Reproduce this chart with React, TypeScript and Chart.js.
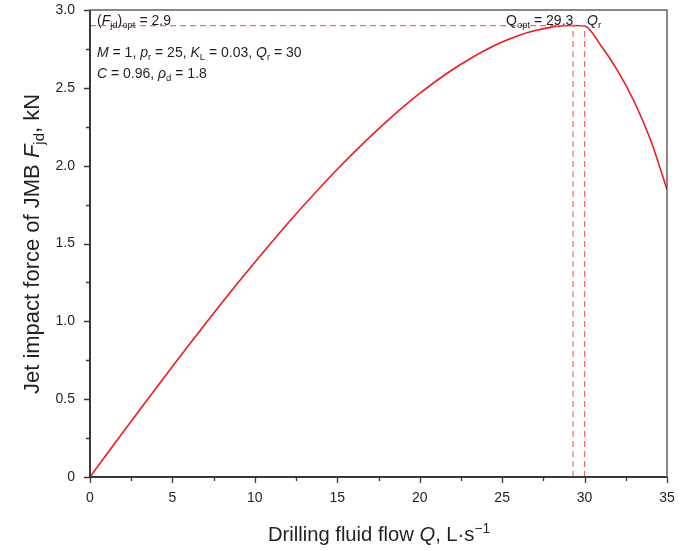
import React, { useEffect, useRef } from "react";
import { Chart, registerables } from "chart.js";

Chart.register(...registerables);

// Drilling fluid flow Q (L/s)
const flowQ = [0, 1, 2, 3, 4, 5, 6, 7, 8, 9, 10, 11, 12, 13, 14, 15, 16, 17, 18, 19, 20, 21, 22, 23, 24, 25, 26, 27, 28, 29, 29.3, 30, 31, 32, 33, 34, 35];
// Jet impact force F_jd (kN)
const force = [0, 0.144, 0.287, 0.429, 0.570, 0.710, 0.848, 0.985, 1.119, 1.251, 1.380, 1.506, 1.630, 1.749, 1.865, 1.977, 2.084, 2.187, 2.285, 2.377, 2.464, 2.544, 2.618, 2.684, 2.743, 2.794, 2.836, 2.868, 2.890, 2.900, 2.900, 2.897, 2.770, 2.611, 2.414, 2.166, 1.847];

const optForce = 2.9;
const optFlow = 29.3;
const ratedFlow = 30;

const xTicks = [0, 5, 10, 15, 20, 25, 30, 35];
const yTicks = [0, 0.5, 1.0, 1.5, 2.0, 2.5, 3.0];

const FONT = "'Liberation Sans', Arial, Helvetica, sans-serif";

type Seg = { t: string; it?: boolean; sub?: boolean; sup?: boolean };

function segFont(s: Seg, size: number) {
  const sz = s.sub || s.sup ? size * 0.68 : size;
  return `${s.it ? "italic " : ""}${sz}px ${FONT}`;
}

function richWidth(ctx: CanvasRenderingContext2D, segs: Seg[], size: number) {
  let w = 0;
  for (const s of segs) {
    ctx.font = segFont(s, size);
    w += ctx.measureText(s.t).width;
  }
  return w;
}

function drawRich(ctx: CanvasRenderingContext2D, x: number, y: number, segs: Seg[], size: number, align: "left" | "center" = "left") {
  let cx = x;
  if (align === "center") cx = x - richWidth(ctx, segs, size) / 2;
  ctx.textAlign = "left";
  ctx.textBaseline = "alphabetic";
  for (const s of segs) {
    ctx.font = segFont(s, size);
    let dy = 0;
    if (s.sub) dy = size * 0.22;
    if (s.sup) dy = -size * 0.42;
    ctx.fillText(s.t, cx, y + dy);
    cx += ctx.measureText(s.t).width;
  }
}

const decorPlugin = {
  id: "decor",
  afterDraw(chart: any) {
    const ctx: CanvasRenderingContext2D = chart.ctx;
    const { left, right, top, bottom } = chart.chartArea;
    const xs = chart.scales.x;
    const ys = chart.scales.y;
    ctx.save();
    // frame
    ctx.strokeStyle = "#3c3836";
    ctx.lineWidth = 1.2;
    ctx.strokeRect(left, top, right - left, bottom - top);
    ctx.lineWidth = 2;
    ctx.beginPath();
    ctx.moveTo(left, top);
    ctx.lineTo(left, bottom);
    ctx.lineTo(right, bottom);
    ctx.stroke();
    // ticks
    ctx.lineWidth = 1.3;
    ctx.beginPath();
    for (let v = 0; v <= 35.001; v += 2.5) {
      const px = Math.round(xs.getPixelForValue(v)) + 0.5;
      const major = Math.abs(v % 5) < 1e-6;
      ctx.moveTo(px, bottom);
      ctx.lineTo(px, bottom + (major ? 6 : 4));
    }
    for (let v = 0; v <= 3.001; v += 0.25) {
      const py = Math.round(ys.getPixelForValue(v)) + 0.5;
      const major = Math.abs((v * 2) % 1) < 1e-6;
      ctx.moveTo(left, py);
      ctx.lineTo(left - (major ? 6 : 4), py);
    }
    ctx.stroke();

    ctx.fillStyle = "#231f20";
    // axis titles
    drawRich(ctx, (left + right) / 2 + 0.5, 541, [
      { t: "Drilling fluid flow " },
      { t: "Q", it: true },
      { t: ", L·s" },
      { t: "−1", sup: true },
    ], 20.2, "center");
    ctx.save();
    ctx.translate(39, 244);
    ctx.rotate(-Math.PI / 2);
    drawRich(ctx, 0, 0, [
      { t: "Jet impact force of JMB " },
      { t: "F", it: true },
      { t: "jd", sub: true },
      { t: ", kN" },
    ], 22, "center");
    ctx.restore();

    // annotations
    const fs = 14;
    drawRich(ctx, left + 7, 25, [
      { t: "(" }, { t: "F", it: true }, { t: "jd", sub: true }, { t: ")" }, { t: "opt", sub: true }, { t: " = 2.9" },
    ], fs);
    drawRich(ctx, left + 7, 57, [
      { t: "M", it: true }, { t: " = 1, " },
      { t: "p", it: true }, { t: "r", sub: true }, { t: " = 25, " },
      { t: "K", it: true }, { t: "L", sub: true }, { t: " = 0.03, " },
      { t: "Q", it: true }, { t: "r", sub: true }, { t: " = 30" },
    ], fs);
    drawRich(ctx, left + 7, 78, [
      { t: "C", it: true }, { t: " = 0.96, " },
      { t: "ρ", it: true }, { t: "d", sub: true }, { t: " = 1.8" },
    ], fs);
    drawRich(ctx, 506, 25, [
      { t: "Q", it: false }, { t: "opt", sub: true }, { t: " = 29.3" },
    ], fs);
    drawRich(ctx, 587, 25, [
      { t: "Q", it: true }, { t: "r", sub: true },
    ], fs);
    ctx.restore();
  },
};

export default function App() {
  const ref = useRef<HTMLCanvasElement>(null);
  useEffect(() => {
    if (!ref.current) return;
    const dash = "rgba(238, 90, 90, 0.9)";
    const chart = new Chart(ref.current, {
      type: "line",
      data: {
        datasets: [
          {
            data: [{ x: 0, y: optForce }, { x: ratedFlow, y: optForce }],
            borderColor: dash, borderWidth: 1.2, borderDash: [6, 4], pointRadius: 0,
          },
          {
            data: [{ x: optFlow, y: 0 }, { x: optFlow, y: optForce }],
            borderColor: dash, borderWidth: 1.2, borderDash: [6, 4], pointRadius: 0,
          },
          {
            data: [{ x: ratedFlow, y: 0 }, { x: ratedFlow, y: optForce }],
            borderColor: dash, borderWidth: 1.2, borderDash: [6, 4], pointRadius: 0,
          },
          {
            data: flowQ.map((q, i) => ({ x: q, y: force[i] })),
            borderColor: "#ec1c24", borderWidth: 1.6, pointRadius: 0,
            cubicInterpolationMode: "monotone",
          },
        ],
      },
      options: {
        responsive: false,
        animation: false,
        layout: { padding: { top: 10, right: 23, left: 0, bottom: 0 } },
        plugins: { legend: { display: false }, tooltip: { enabled: false } },
        scales: {
          x: {
            type: "linear", min: 0, max: 35,
            afterBuildTicks: (s: any) => { s.ticks = xTicks.map((v) => ({ value: v })); },
            afterFit: (s: any) => { s.height = 74; s.paddingLeft = 0; s.paddingRight = 0; },
            grid: { display: false }, border: { display: false },
            ticks: { color: "#231f20", font: { size: 14, family: FONT }, padding: 5, maxRotation: 0 },
          },
          y: {
            type: "linear", min: 0, max: 3,
            afterBuildTicks: (s: any) => { s.ticks = yTicks.map((v) => ({ value: v })); },
            afterFit: (s: any) => { s.width = 90; s.paddingTop = 0; s.paddingBottom = 0; },
            grid: { display: false }, border: { display: false },
            ticks: {
              color: "#231f20", font: { size: 14, family: FONT }, padding: 7,
              callback: (v: any) => (Number(v) === 0 ? "0" : Number(v).toFixed(1)),
            },
          },
        },
      },
      plugins: [decorPlugin],
    } as any);
    return () => chart.destroy();
  }, []);
  return (
    <div style={{ position: "fixed", left: 0, top: 0, width: 690, height: 551, background: "#fff" }}>
      <canvas ref={ref} width={690} height={551} />
    </div>
  );
}
